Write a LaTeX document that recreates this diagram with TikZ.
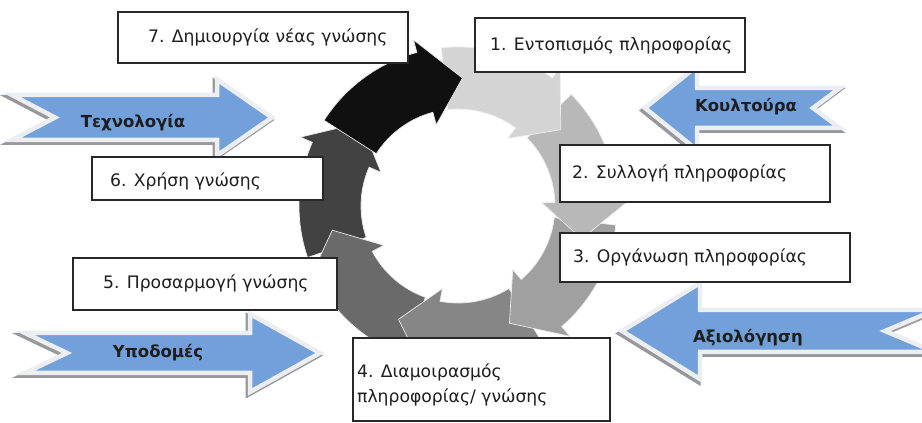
\documentclass[tikz,border=0pt]{standalone}
\usepackage{fontspec}
\setmainfont{DejaVu Sans}
\definecolor{arrblue}{RGB}{114,160,218}
\definecolor{rimc}{RGB}{236,238,242}
\definecolor{shadc}{RGB}{150,152,156}
\definecolor{boxc}{RGB}{40,40,40}
\definecolor{txtc}{RGB}{30,30,30}
\definecolor{cA}{RGB}{212,212,212}
\definecolor{cB}{RGB}{184,184,184}
\definecolor{cC}{RGB}{160,160,160}
\definecolor{cD}{RGB}{134,134,134}
\definecolor{cE}{RGB}{106,106,106}
\definecolor{cF}{RGB}{66,66,66}
\definecolor{cG}{RGB}{16,16,16}
\newcommand{\myarrowseg}[4]{%
  \fill[#4, draw=white!85!gray, line width=0.7pt]
    (#1:159) arc[start angle=#1, end angle=#2, radius=159]
    -- (#2:172) -- (#3:128) -- (#2:84) -- (#2:97)
    arc[start angle=#2, end angle=#1, radius=97] -- cycle;}
\tikzset{
  box/.style={draw=boxc, line width=1.6pt, fill=white, inner sep=0pt},
  lbl/.style={text=txtc, inner sep=0pt, font=\fontsize{17.2}{20}\selectfont},
  blbl/.style={text=txtc, inner sep=0pt, font=\fontsize{16.5}{19}\selectfont\bfseries},
  bigarrow/.style={fill=arrblue, draw=rimc, line width=4.5pt, line join=miter},
  bigshadow/.style={draw=shadc, line width=5pt, line join=miter}
}
\begin{document}
\begin{tikzpicture}[x=1pt,y=1pt]
\useasboundingbox (0,0) rectangle (922,423);
\clip (0,0) rectangle (922,423);
\fill[white] (0,0) rectangle (922,423);
% circular cycle
\begin{scope}[shift={(458,217)}]
  \myarrowseg{198.9}{156.4}{139.4}{cF}
  \myarrowseg{250.3}{207.9}{190.9}{cE}
  \myarrowseg{301.7}{259.3}{242.3}{cD}
  \myarrowseg{353.1}{310.7}{293.7}{cC}
  \myarrowseg{404.6}{362.1}{345.1}{cB}
  \myarrowseg{456}{413.6}{396.6}{cA}
  \myarrowseg{507.4}{465}{448}{cG}
\end{scope}
% block arrows
\draw[bigshadow] (10,325.5)--(215,325.5)--(215,341)--(270,303)--(215,265)--(215,280.5)--(10,280.5)--(53,303)--cycle;
\fill[bigarrow] (12,328)--(217,328)--(217,343.5)--(272,305.5)--(217,267.5)--(217,283)--(12,283)--(55,305.5)--cycle;
\draw[bigshadow] (23,87.5)--(248,87.5)--(248,106.5)--(318,67.5)--(248,28.5)--(248,47.5)--(23,47.5)--(65,67.5)--cycle;
\fill[bigarrow] (25,90)--(250,90)--(250,109)--(320,70)--(250,31)--(250,50)--(25,50)--(67,70)--cycle;
\draw[bigshadow] (643,312.5)--(695,354.5)--(695,332.5)--(838,332.5)--(811,312.5)--(838,292.5)--(695,292.5)--(695,270.5)--cycle;
\fill[bigarrow] (645,315)--(697,357)--(697,335)--(840,335)--(813,315)--(840,295)--(697,295)--(697,273)--cycle;
\draw[bigshadow] (620,89.5)--(698,137.5)--(698,110.5)--(933,110.5)--(883,89.5)--(933,68.5)--(698,68.5)--(698,41.5)--cycle;
\fill[bigarrow] (622,92)--(700,140)--(700,113)--(935,113)--(885,92)--(935,71)--(700,71)--(700,44)--cycle;
\node[blbl] (tech) at (133,300) {Τεχνολογία};
\node[blbl] (infra) at (158,70) {Υποδομές};
\node[blbl] (cult) at (746,316) {Κουλτούρα};
\node[blbl] (eval) at (748,85) {Αξιολόγηση};
% boxes
\node[box, minimum width=290pt, minimum height=51pt] (b7) at (263,385.5) {};
\node[lbl, anchor=west] (t7) at (148,385.5) {7. Δημιουργία νέας γνώσης};
\node[box, minimum width=270pt, minimum height=54pt] (b1) at (610,378) {};
\node[lbl, anchor=west] (t1) at (490,378) {1. Εντοπισμός πληροφορίας};
\node[box, minimum width=270pt, minimum height=57pt] (b2) at (695,249.5) {};
\node[lbl, anchor=west] (t2) at (572,250) {2. Συλλογή πληροφορίας};
\node[box, minimum width=290pt, minimum height=49pt] (b3) at (705,165.5) {};
\node[lbl, anchor=west] (t3) at (573,166) {3. Οργάνωση πληροφορίας};
\node[box, minimum width=257pt, minimum height=83pt] (b4) at (481.5,43.5) {};
\node[lbl, anchor=west] (t4a) at (357,51) {4. Διαμοιρασμός};
\node[lbl, anchor=west] (t4b) at (357,26) {πληροφορίας/ γνώσης};
\node[box, minimum width=264pt, minimum height=52pt] (b5) at (205,139) {};
\node[lbl, anchor=west] (t5) at (103,140) {5. Προσαρμογή γνώσης};
\node[box, minimum width=231pt, minimum height=43pt] (b6) at (207.5,244.5) {};
\node[lbl, anchor=west] (t6) at (110,242) {6. Χρήση γνώσης};
\end{tikzpicture}
\end{document}
